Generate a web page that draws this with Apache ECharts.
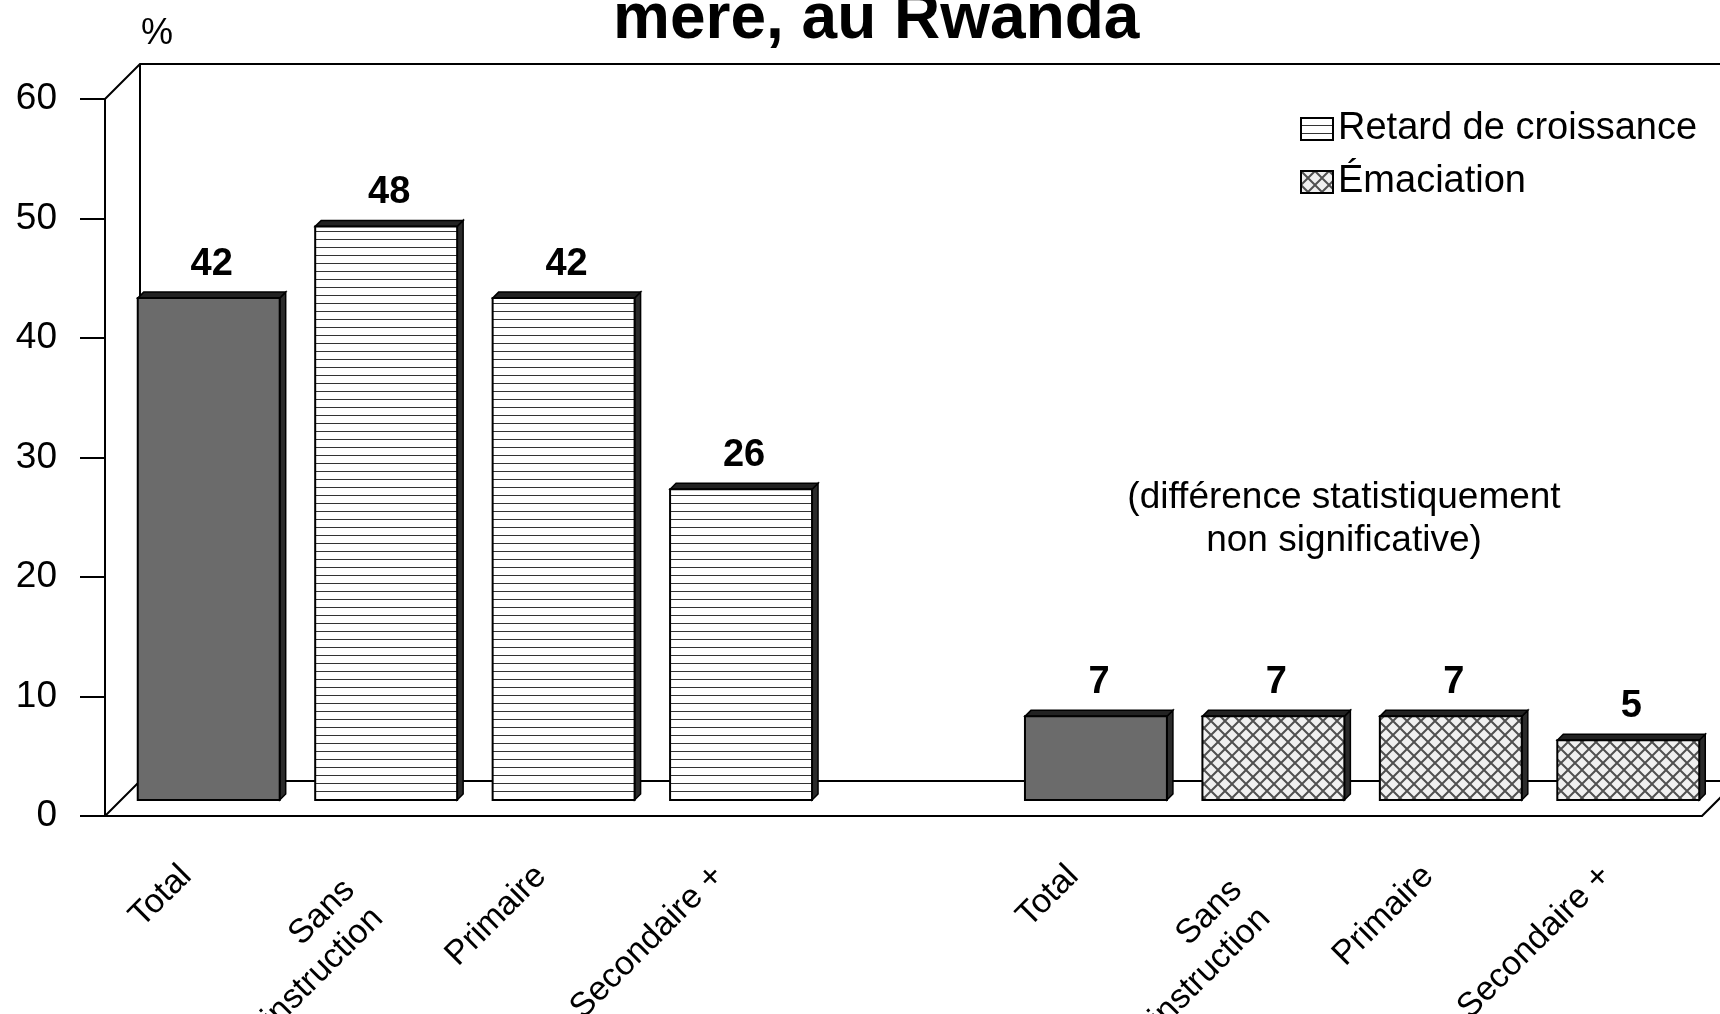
<!DOCTYPE html>
<html lang="fr">
<head>
  <meta charset="UTF-8">
  <title>Retard de croissance et émaciation selon l'instruction de la mère, au Rwanda</title>
  <script src="https://cdn.jsdelivr.net/npm/echarts@6.0.0/dist/echarts.min.js"></script>
  <style>
    html, body { margin: 0; padding: 0; background: #fff; }
    #main { width: 1720px; height: 1014px; }
  </style>
</head>
<body>
  <div id="main"></div>

  <script>
    // données
    const categories = ['Total', 'Sans\ninstruction', 'Primaire', 'Secondaire +', '',
                        'Total', 'Sans\ninstruction', 'Primaire', 'Secondaire +'];
    const retardValues = [42, 48, 42, 26, null, null, null, null, null];
    const emaciationValues = [null, null, null, null, null, 7, 7, 7, 5];
    const seriesNames = ['Retard de croissance', 'Émaciation'];
    const note = '(différence statistiquement\nnon significative)';

    const FONT = '"Liberation Sans", Arial, sans-serif';
    const D = 35;      // profondeur du cadre 3D
    const d = 6;       // profondeur des barres

    // motifs de remplissage
    function hatchH() {
      const c = document.createElement('canvas');
      c.width = 8; c.height = 8;
      const g = c.getContext('2d');
      g.fillStyle = '#fff'; g.fillRect(0, 0, 8, 8);
      g.fillStyle = '#333'; g.fillRect(0, 7, 8, 1);
      return { image: c, repeat: 'repeat' };
    }
    function hatchX() {
      const s = 14;
      const c = document.createElement('canvas');
      c.width = s; c.height = s;
      const g = c.getContext('2d');
      g.fillStyle = '#f0f0f0'; g.fillRect(0, 0, s, s);
      g.strokeStyle = '#505050'; g.lineWidth = 2;
      g.beginPath();
      g.moveTo(0, 0); g.lineTo(s, s);
      g.moveTo(s, 0); g.lineTo(0, s);
      g.stroke();
      return { image: c, repeat: 'repeat' };
    }
    const patterns = [hatchH(), hatchX()];

    function toData(values) {
      return values.map((v, i) => [i, v]).filter(p => p[1] != null);
    }

    function renderBox(params, api) {
      const i = api.value(0), v = api.value(1);
      const top = api.coord([i, v]);
      const base = api.coord([i, 0]);
      const w = api.size([1, 0])[0] * 0.8;
      const x0 = top[0] - w / 2, x1 = top[0] + w / 2;
      const y0 = top[1], y1 = base[1];
      const face = categories[i] === 'Total' ? '#6b6b6b' : patterns[params.seriesIndex];
      return {
        type: 'group',
        children: [
          { type: 'polygon', shape: { points: [[x1, y0], [x1 + d, y0 - d], [x1 + d, y1 - d], [x1, y1]] },
            style: { fill: '#2b2b2b', stroke: '#000', lineWidth: 1.5 } },
          { type: 'polygon', shape: { points: [[x0, y0], [x0 + d, y0 - d], [x1 + d, y0 - d], [x1, y0]] },
            style: { fill: '#222', stroke: '#000', lineWidth: 1.5 } },
          { type: 'rect', shape: { x: x0, y: y0, width: w, height: y1 - y0 },
            style: { fill: face, stroke: '#000', lineWidth: 2 } },
          { type: 'text', x: top[0] + d / 2, y: y0 - 34,
            style: { text: String(v), fontSize: 38, fontWeight: 'bold', fontFamily: FONT,
                     fill: '#000', align: 'center', verticalAlign: 'middle' } }
        ]
      };
    }

    // libellés sur deux lignes : un peu décalés, comme dans l'original
    function catLabel(v) {
      if (v.indexOf('\n') < 0) return v;
      return v.split('\n').map(s => '{m|' + s + '}').join('\n');
    }

    const chart = echarts.init(document.getElementById('main'));

    // cadre avant
    const fL = 105, fT = 99, fB = 816, fR = 1702;
    const line = { stroke: '#000', lineWidth: 2, fill: null };

    const option = {
      animation: false,
      backgroundColor: '#fff',
      title: {
        text: 'mere, au Rwanda',
        left: 608, top: -17,
        textStyle: { fontSize: 64, fontWeight: 'bold', fontFamily: FONT, color: '#000' }
      },
      legend: {
        orient: 'vertical', left: 1295, top: 105,
        icon: 'rect', itemWidth: 32, itemHeight: 22, itemGap: 15, itemTextGap: 7,
        itemStyle: { borderColor: '#000', borderWidth: 2 },
        textStyle: { fontSize: 38, lineHeight: 38, fontFamily: FONT, color: '#000' },
        data: seriesNames
      },
      grid: [
        { left: 120, right: 3, top: 83, bottom: 214, outerBoundsMode: 'none', containLabel: false },
        { left: fL, right: 1720 - fR, top: fT, bottom: 1014 - fB, outerBoundsMode: 'none', containLabel: false }
      ],
      xAxis: [
        { gridIndex: 0, type: 'category', data: categories,
          axisLine: { show: false }, axisTick: { show: false }, splitLine: { show: false },
          axisLabel: { interval: 0, rotate: 45, margin: 20, padding: [0, 52, 0, 0], verticalAlign: 'top',
                       fontSize: 34, lineHeight: 40, fontFamily: FONT, color: '#000',
                       formatter: catLabel,
                       rich: { m: { fontSize: 34, lineHeight: 40, fontFamily: FONT, color: '#000',
                                    padding: [0, 20, 0, 0] } } } },
        { gridIndex: 1, type: 'value', min: 0, max: 1,
          axisLine: { show: true, lineStyle: { color: '#000', width: 2 } },
          axisTick: { show: false }, axisLabel: { show: false }, splitLine: { show: false } }
      ],
      yAxis: [
        { gridIndex: 0, type: 'value', min: 0, max: 60, show: false },
        { gridIndex: 1, type: 'value', min: 0, max: 60, interval: 10,
          name: '%', nameLocation: 'end', nameGap: 47,
          nameTextStyle: { fontSize: 36, fontFamily: FONT, color: '#000', align: 'left', padding: [0, 0, 0, 36] },
          axisLine: { show: true, lineStyle: { color: '#000', width: 2 } },
          axisTick: { show: true, length: 25, lineStyle: { color: '#000', width: 2 } },
          axisLabel: { margin: 48, fontSize: 37, fontFamily: FONT, color: '#000' },
          splitLine: { show: false } }
      ],
      graphic: [
        { type: 'polyline', z: 1, shape: { points: [[fL, fT], [fL + D, fT - D], [1760, fT - D]] }, style: line },
        { type: 'polyline', z: 1, shape: { points: [[fL + D, fT - D], [fL + D, fB - D]] }, style: line },
        { type: 'polyline', z: 1, shape: { points: [[fL, fB], [fL + D, fB - D], [1760, fB - D]] }, style: line },
        { type: 'polyline', z: 1, shape: { points: [[fR, fB], [fR + D, fB - D]] }, style: line },
        { type: 'text', z: 5, x: 1344, y: 519,
          style: { text: note, fontSize: 37, lineHeight: 43, fontFamily: FONT, fill: '#000',
                   align: 'center', verticalAlign: 'middle' } }
      ],
      series: [
        { name: seriesNames[0], type: 'custom', xAxisIndex: 0, yAxisIndex: 0, z: 3, clip: false,
          itemStyle: { color: patterns[0], borderColor: '#000', borderWidth: 2 },
          encode: { x: 0, y: 1 }, renderItem: renderBox, data: toData(retardValues) },
        { name: seriesNames[1], type: 'custom', xAxisIndex: 0, yAxisIndex: 0, z: 3, clip: false,
          itemStyle: { color: patterns[1], borderColor: '#000', borderWidth: 2 },
          encode: { x: 0, y: 1 }, renderItem: renderBox, data: toData(emaciationValues) }
      ]
    };

    chart.setOption(option);
    window.addEventListener('resize', () => chart.resize());
  </script>
</body>
</html>
